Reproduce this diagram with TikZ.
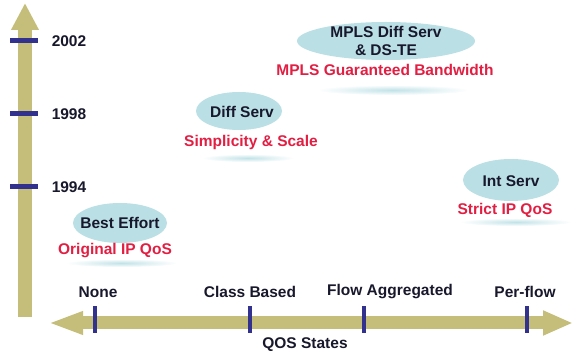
\documentclass[tikz,border=0pt]{standalone}
\usepackage{fontspec}
\setmainfont{Liberation Sans}
\usepackage{tikz}
\usetikzlibrary{arrows.meta,positioning}
\definecolor{col1}{RGB}{196,190,122}
\definecolor{col2}{RGB}{50,50,142}
\definecolor{col3}{RGB}{186,223,229}
\definecolor{col4}{RGB}{226,30,66}
\definecolor{col5}{RGB}{24,24,44}
\tikzstyle{tech}=[text=col5, inner sep=0pt, align=center]
\tikzstyle{note}=[text=col4, inner sep=0pt]
\tikzstyle{lbl}=[text=col5, inner sep=0pt]
\tikzstyle{tick}=[col2, line width=5pt]
\tikzstyle{haze}=[inner color=col3!90, outer color=white]

\begin{document}
\begin{tikzpicture}[x=1pt,y=1pt,font=\fontsize{15.5}{19}\selectfont\bfseries]
    \useasboundingbox (0,0) rectangle (574,356);
    % axes
    \coordinate (vbot) at (25,39);
    \coordinate (vtop) at (25,353);
    \coordinate (hleft) at (48,33);
    \coordinate (hright) at (573,33);
    \draw[col1, line width=14pt, -{Triangle[length=27pt,width=26pt]}] (vbot) -- (vtop);
    \draw[col1, line width=13pt, {Triangle[length=35pt,width=21pt]}-{Triangle[length=30pt,width=23pt]}] (hleft) -- (hright);
    % years
    \foreach \yr/\y in {2002/315,1998/242,1994/169} {
        \draw[tick] (10,\y) -- (38,\y);
        \node[lbl] (y\yr) at (69,\y) {\yr};
    }
    % states
    \foreach \x in {95,250,364,527} {
        \draw[tick, line width=4pt] (\x,23) -- (\x,50);
    }
    \node[lbl] (none) at (98,64) {None};
    \node[lbl] (class) at (250,64) {Class Based};
    \node[lbl] (flow) at (390,64) {Flow Aggregated};
    \node[lbl] (perflow) at (525,64) {Per-flow};
    \node[lbl] (qos) at (305,11) {QOS States};
    % soft shadows under the bubbles
    \shade[haze] (122,93) ellipse (56pt and 4pt);
    \shade[haze] (248,198) ellipse (46pt and 4pt);
    \shade[haze] (393,266) ellipse (76pt and 5pt);
    \shade[haze] (516,134) ellipse (56pt and 4pt);
    % bubbles
    \fill[col3] (120,133) ellipse (47pt and 20pt);
    \fill[col3] (239,245) ellipse (43pt and 19pt);
    \fill[col3] (386,315) ellipse (89pt and 19pt);
    \fill[col3] (511,176) ellipse (48pt and 21pt);
    \node[tech] (best) at (120,133) {Best Effort};
    \node[note] (bestn) at (115,105) {Original IP QoS};
    \node[tech] (diff) at (242,244) {Diff Serv};
    \node[note] (diffn) at (251,214) {Simplicity \& Scale};
    \node[tech, text depth=0pt] (mpls) at (386,315) {MPLS Diff Serv\\[-1pt]\& DS-TE};
    \node[note] (mplsn) at (385,286) {MPLS Guaranteed Bandwidth};
    \node[tech] (int) at (511,175) {Int Serv};
    \node[note] (intn) at (505,146) {Strict IP QoS};
\end{tikzpicture}
\end{document}
